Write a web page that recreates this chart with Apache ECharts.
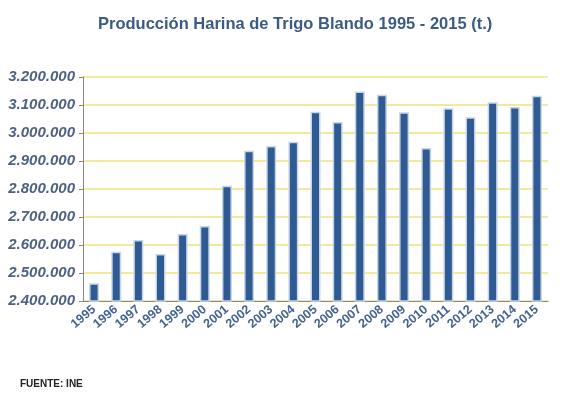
<!DOCTYPE html>
<html>
<head>
<meta charset="utf-8">
<script src="https://cdn.jsdelivr.net/npm/echarts@6/dist/echarts.min.js"></script>
<style>
  html, body { margin: 0; padding: 0; background: #fff; }
  #chart { width: 565px; height: 398px; }
</style>
</head>
<body>
<div id="chart"></div>
<script>
// años y producción (toneladas)
const years = ['1995', '1996', '1997', '1998', '1999', '2000', '2001', '2002', '2003', '2004', '2005',
  '2006', '2007', '2008', '2009', '2010', '2011', '2012', '2013', '2014', '2015']
const production = [2463000, 2576000, 2618000, 2568000, 2639000, 2668000, 2812000, 2937000, 2954000, 2969000, 3076000,
  3039000, 3148000, 3137000, 3074000, 2946000, 3088000, 3056000, 3110000, 3093000, 3133000]

function fmt(v) {
  return String(v).replace(/\B(?=(\d{3})+(?!\d))/g, '.')
}

const chart = echarts.init(document.getElementById('chart'))

chart.setOption({
  animation: false,
  backgroundColor: '#fff',
  title: [{
    text: 'Producción Harina de Trigo Blando 1995 - 2015 (t.)',
    left: 93,
    top: 11,
    textStyle: { fontFamily: 'Liberation Sans', fontSize: 16.5, fontWeight: 'bold', color: '#3b5b82' }
  }, {
    text: 'FUENTE: INE',
    left: 15,
    top: 374,
    textStyle: { fontFamily: 'Liberation Sans', fontSize: 10, fontWeight: 'bold', color: '#222' }
  }],
  grid: { left: 83, right: 17, top: 77, bottom: 97 },
  xAxis: {
    type: 'category',
    data: years,
    axisLine: { lineStyle: { color: '#888' } },
    axisTick: { alignWithLabel: false, length: 5, lineStyle: { color: '#888' } },
    axisLabel: {
      interval: 0,
      rotate: 40,
      margin: 7,
      fontFamily: 'Liberation Sans',
      fontSize: 12.5,
      fontWeight: 'bold',
      color: '#44638f'
    }
  },
  yAxis: {
    type: 'value',
    min: 2400000,
    max: 3200000,
    interval: 100000,
    axisLine: { show: true, lineStyle: { color: '#888' } },
    axisTick: { show: true, length: 4, lineStyle: { color: '#888' } },
    splitLine: { show: true, lineStyle: { color: '#eee27a', width: 1.5, type: 'solid' } },
    axisLabel: {
      formatter: fmt,
      margin: 8,
      fontFamily: 'Liberation Sans',
      fontSize: 15,
      fontStyle: 'italic',
      fontWeight: 'bold',
      color: '#4f6282'
    }
  },
  series: [{
    type: 'bar',
    data: production,
    barWidth: 10,
    itemStyle: {
      color: '#2f5a92',
      borderColor: '#c6d6ea',
      borderWidth: 1.5
    }
  }]
})
</script>
</body>
</html>
